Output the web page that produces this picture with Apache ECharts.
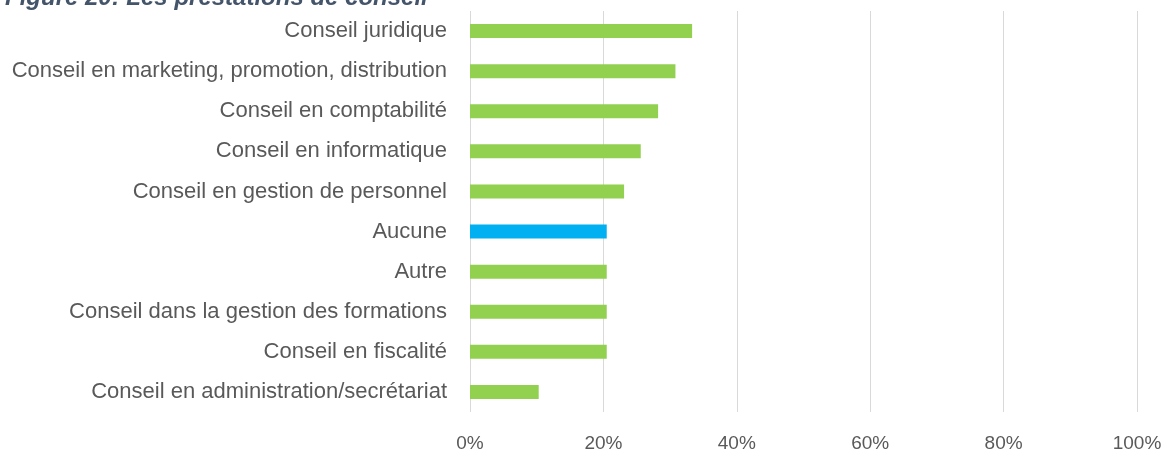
<!DOCTYPE html>
<html>
<head>
<meta charset="utf-8">
<script src="https://cdn.jsdelivr.net/npm/echarts@6/dist/echarts.min.js"></script>
<style>
  html, body { margin: 0; padding: 0; background: #fff; }
  #chart { width: 1169px; height: 453px; }
</style>
</head>
<body>
<div id="chart"></div>
<script>
// prestations, in order from top to bottom
var categories = [
  "Conseil juridique",
  "Conseil en marketing, promotion, distribution",
  "Conseil en comptabilité",
  "Conseil en informatique",
  "Conseil en gestion de personnel",
  "Aucune",
  "Autre",
  "Conseil dans la gestion des formations",
  "Conseil en fiscalité",
  "Conseil en administration/secrétariat"
];
var values = [33.3, 30.8, 28.2, 25.6, 23.1, 20.5, 20.5, 20.5, 20.5, 10.3];
var highlight = "Aucune";

var myChart = echarts.init(document.getElementById("chart"));

var option = {
  animation: false,
  title: {
    text: "Figure 20: Les prestations de conseil",
    left: 0,
    top: -19,
    textStyle: {
      fontFamily: "Liberation Sans, Arial, sans-serif",
      fontSize: 24,
      fontWeight: "bold",
      fontStyle: "italic",
      color: "#44546a"
    }
  },
  grid: {
    left: 470,
    right: 32,
    top: 11,
    bottom: 41
  },
  xAxis: {
    type: "value",
    min: 0,
    max: 100,
    interval: 20,
    axisLine: { show: false },
    axisTick: { show: false },
    splitLine: { lineStyle: { color: "#d9d9d9", width: 1 } },
    axisLabel: {
      formatter: "{value}%",
      margin: 22,
      color: "#595959",
      fontSize: 19,
      fontFamily: "Liberation Sans, Arial, sans-serif"
    }
  },
  yAxis: {
    type: "category",
    inverse: true,
    data: categories,
    axisLine: { show: false },
    axisTick: { show: false },
    axisLabel: {
      margin: 23,
      padding: [4, 0, 0, 0],
      color: "#595959",
      fontSize: 22,
      fontFamily: "Liberation Sans, Arial, sans-serif"
    }
  },
  series: [
    {
      type: "bar",
      barWidth: 14,
      data: values.map(function (v, i) {
        return {
          value: v,
          itemStyle: { color: categories[i] === highlight ? "#00b0f0" : "#92d050" }
        };
      })
    }
  ]
};
myChart.setOption(option);
</script>
</body>
</html>
